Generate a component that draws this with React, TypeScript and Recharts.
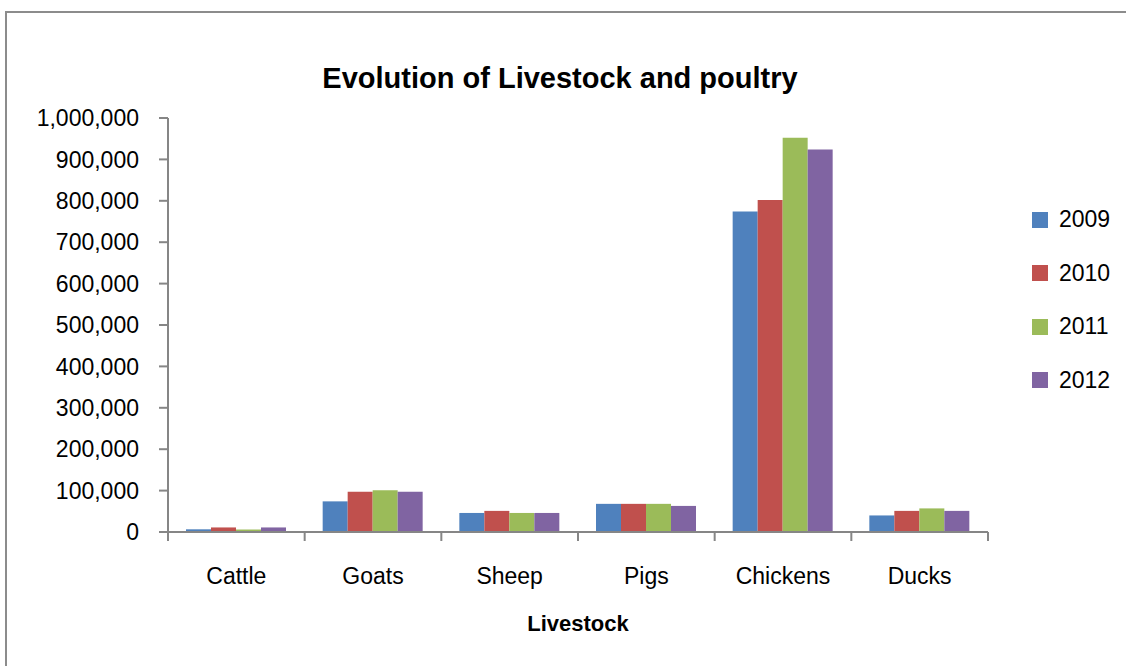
import { BarChart, Bar, XAxis, YAxis, Legend } from 'recharts'

const CATEGORIES = ['Cattle', 'Goats', 'Sheep', 'Pigs', 'Chickens', 'Ducks']
const YEARS = ['2009', '2010', '2011', '2012']
const Y2009 = [6500, 74000, 46000, 68000, 774000, 40000]
const Y2010 = [11000, 97000, 51000, 68000, 802000, 51000]
const Y2011 = [6000, 101000, 46000, 68000, 952000, 57000]
const Y2012 = [11000, 97000, 46000, 63000, 924000, 51000]
const Y_TICKS = [0, 100000, 200000, 300000, 400000, 500000, 600000, 700000, 800000, 900000, 1000000]

const COLORS = ['#4F81BD', '#C0504D', '#9BBB59', '#8064A2']
const FONT = '"Liberation Sans", Arial, sans-serif'
const AXIS_GREY = '#868686'
const X_TICK_MARGIN = 36

const data = CATEGORIES.map((name, i) => ({
  name,
  '2009': Y2009[i],
  '2010': Y2010[i],
  '2011': Y2011[i],
  '2012': Y2012[i],
}))

// category label centred in its band, with tick marks on the band edges
function CategoryTick(props: any) {
  const { x, y, payload, index, visibleTicksCount } = props
  const half = payload?.offset ?? 68
  const top = y - X_TICK_MARGIN
  return (
    <g>
      <line x1={x - half} y1={top} x2={x - half} y2={top + 9} stroke={AXIS_GREY} strokeWidth={2} />
      {index === visibleTicksCount - 1 && (
        <line x1={x + half} y1={top} x2={x + half} y2={top + 9} stroke={AXIS_GREY} strokeWidth={2} />
      )}
      <text x={x} y={y} dy="0.71em" textAnchor="middle" fill="#000" fontSize={23} fontFamily={FONT}>
        {payload.value}
      </text>
    </g>
  )
}

function YearLegend() {
  return (
    <div style={{ fontFamily: FONT, fontSize: 23, color: '#000' }}>
      {YEARS.map((y, i) => (
        <div key={y} style={{ display: 'flex', alignItems: 'center', height: 53.5 }}>
          <span style={{ width: 16, height: 16, background: COLORS[i], marginRight: 11 }} />
          <span>{y}</span>
        </div>
      ))}
    </div>
  )
}

export default function App() {
  return (
    <div style={{ position: 'fixed', left: 0, top: 0, width: 1126, height: 666, background: '#fff', overflow: 'hidden' }}>
      <div
        style={{
          position: 'absolute',
          left: 5,
          top: 11,
          width: 1200,
          height: 700,
          border: '2px solid #8c8c8c',
        }}
      />
      <div
        style={{
          position: 'absolute',
          left: 0,
          width: 1120,
          top: 62,
          textAlign: 'center',
          fontFamily: FONT,
          fontWeight: 'bold',
          fontSize: 29,
          color: '#000',
        }}
      >
        Evolution of Livestock and poultry
      </div>
      <div style={{ position: 'absolute', left: 0, top: 0 }}>
        <BarChart
          width={1126}
          height={666}
          data={data}
          margin={{ top: 118, right: 44, bottom: 24, left: 0 }}
          barCategoryGap={18}
          barGap={0}
        >
          <XAxis
            dataKey="name"
            height={110}
            axisLine={{ stroke: AXIS_GREY, strokeWidth: 2 }}
            tickLine={false}
            tickSize={0}
            tickMargin={X_TICK_MARGIN}
            tick={<CategoryTick />}
            interval={0}
            label={{
              value: 'Livestock',
              position: 'insideBottom',
              offset: 11,
              fill: '#000',
              fontSize: 22,
              fontWeight: 'bold',
              fontFamily: FONT,
            }}
          />
          <YAxis
            width={168}
            domain={[0, 1000000]}
            ticks={Y_TICKS}
            interval={0}
            axisLine={{ stroke: AXIS_GREY, strokeWidth: 2 }}
            tickLine={{ stroke: AXIS_GREY, strokeWidth: 2 }}
            tickSize={9}
            tickMargin={20}
            tick={{ fill: '#000', fontSize: 23, fontFamily: FONT }}
            tickFormatter={(v: number) => v.toLocaleString('en-US')}
          />
          <Legend
            layout="vertical"
            verticalAlign="top"
            align="right"
            content={<YearLegend />}
            wrapperStyle={{ left: 1032, top: 193, width: 94 }}
          />
          {YEARS.map((y, i) => (
            <Bar key={y} dataKey={y} fill={COLORS[i]} isAnimationActive={false} />
          ))}
        </BarChart>
      </div>
    </div>
  )
}
